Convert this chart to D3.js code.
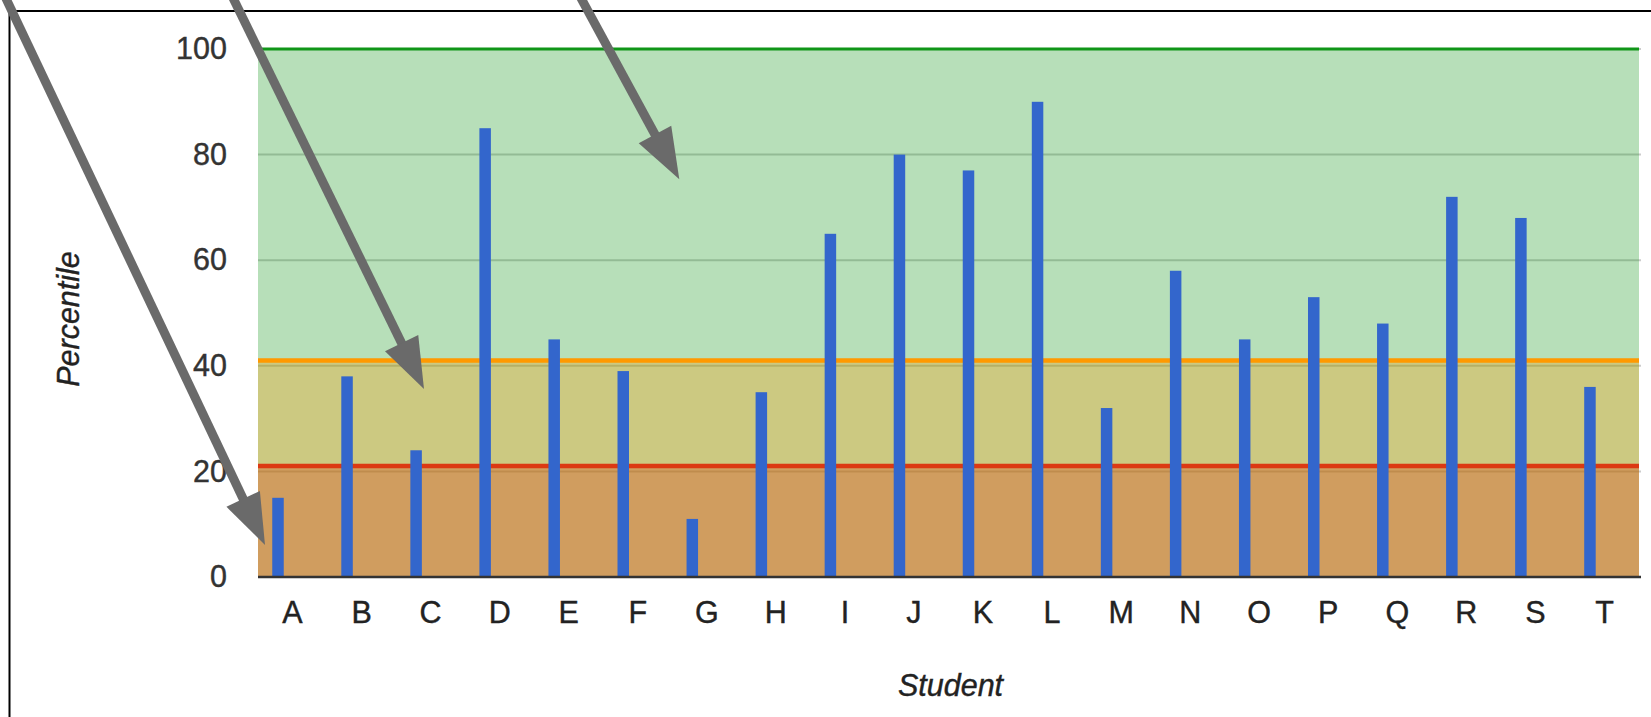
<!DOCTYPE html>
<html>
<head>
<meta charset="utf-8">
<script src="https://cdn.jsdelivr.net/npm/d3@7"></script>
<style>
  html, body { margin: 0; padding: 0; background: #ffffff; }
  svg { display: block; }
  text { font-family: "Liberation Sans", Arial, Helvetica, sans-serif; }
</style>
</head>
<body>
<svg id="chart" width="1651" height="717"></svg>
<script>
// Student percentiles
const categories = ["A","B","C","D","E","F","G","H","I","J","K","L","M","N","O","P","Q","R","S","T"];
const percentiles = [15, 38, 24, 85, 45, 39, 11, 35, 65, 80, 77, 90, 32, 58, 45, 53, 48, 72, 68, 36];

// Performance bands: each area runs from 0 up to its level
const bandLevels = [100, 41, 21];
const bandColors = ["#109618", "#ff9900", "#dc3912"];

const yTicks = [0, 20, 40, 60, 80, 100];
const xTitle = "Student";
const yTitle = "Percentile";

const W = 1651, H = 717;
const plot = { left: 258, right: 1639, top: 49, bottom: 577 };

const svg = d3.select("#chart");

const y = d3.scaleLinear().domain([0, 100]).range([plot.bottom, plot.top]);
// one band per student across the plot; labels sit at band centres
const x = d3.scaleBand().domain(categories).range([plot.left, plot.right]);
// bars sit a little left of the band centre
const barCentre = 20, barWidth = 11.5;

// outer frame (top and left edges)
svg.append("line").attr("x1", 9).attr("x2", W).attr("y1", 11).attr("y2", 11)
  .attr("stroke", "#000").attr("stroke-width", 2);
svg.append("line").attr("x1", 9.5).attr("x2", 9.5).attr("y1", 11).attr("y2", H)
  .attr("stroke", "#000").attr("stroke-width", 2);

// gridlines
svg.append("g").selectAll("line").data(yTicks).join("line")
  .attr("x1", plot.left).attr("x2", plot.right + 2)
  .attr("y1", d => y(d)).attr("y2", d => y(d))
  .attr("stroke", "#cccccc").attr("stroke-width", 2);

// translucent band areas
const area = d3.area().x(d => d[0]).y0(y(0)).y1(d => d[1]);
svg.append("g").selectAll("path").data(bandLevels).join("path")
  .attr("d", (lv) => area([[plot.left, y(lv)], [plot.right, y(lv)]]))
  .attr("fill", (lv, i) => bandColors[i]).attr("fill-opacity", 0.3);

// band boundary lines
svg.append("g").selectAll("line").data(bandLevels).join("line")
  .attr("x1", plot.left).attr("x2", plot.right)
  .attr("y1", d => y(d)).attr("y2", d => y(d))
  .attr("stroke", (d, i) => bandColors[i])
  .attr("stroke-width", (d, i) => i === 0 ? 3 : 4.5);

// bars
svg.append("g").selectAll("rect").data(percentiles).join("rect")
  .attr("x", (d, i) => x(categories[i]) + barCentre - barWidth / 2)
  .attr("width", barWidth)
  .attr("y", d => y(d))
  .attr("height", d => y(0) - y(d))
  .attr("fill", "#3366cc");

// baseline
svg.append("line").attr("x1", plot.left).attr("x2", plot.right + 2)
  .attr("y1", y(0)).attr("y2", y(0))
  .attr("stroke", "#333333").attr("stroke-width", 2.5);

const tickFont = 30.5;

// y axis labels
const yAxis = d3.axisLeft(y).tickValues(yTicks).tickSize(0).tickPadding(0);
const yg = svg.append("g").attr("transform", `translate(227,0)`).call(yAxis);
yg.select(".domain").remove();
yg.selectAll("text").attr("font-size", tickFont).attr("fill", "#333")
  .attr("stroke", "#333").attr("stroke-width", 0.4)
  .attr("font-family", "'Liberation Sans', Arial, sans-serif");

// x axis labels
const xAxis = d3.axisBottom(x).tickSize(0).tickPadding(0);
const xg = svg.append("g").attr("transform", `translate(0,601)`).call(xAxis);
xg.select(".domain").remove();
xg.selectAll("text").attr("font-size", tickFont).attr("fill", "#222")
  .attr("stroke", "#222").attr("stroke-width", 0.4)
  .attr("font-family", "'Liberation Sans', Arial, sans-serif");

// axis titles
svg.append("text").text(xTitle)
  .attr("x", (plot.left + plot.right) / 2 + 2).attr("y", 696)
  .attr("text-anchor", "middle").attr("font-size", tickFont)
  .attr("font-style", "italic").attr("fill", "#222")
  .attr("stroke", "#222").attr("stroke-width", 0.4);
svg.append("text").text(yTitle)
  .attr("transform", `translate(79,${(plot.top + plot.bottom) / 2 + 6}) rotate(-90)`)
  .attr("text-anchor", "middle").attr("font-size", tickFont)
  .attr("font-style", "italic").attr("fill", "#222")
  .attr("stroke", "#222").attr("stroke-width", 0.4);

// callout arrows
const arrows = [
  { from: [6.7, 0], to: [265, 545] },
  { from: [234, 0], to: [424, 389] },
  { from: [582, 0], to: [679.3, 179.3] }
];
const headLen = 51, headHalf = 18.5, arrowColor = "#6a6a6a";
const ag = svg.append("g");
arrows.forEach(a => {
  const dx = a.to[0] - a.from[0], dy = a.to[1] - a.from[1];
  const len = Math.hypot(dx, dy);
  const ux = dx / len, uy = dy / len;
  const sx = a.from[0] - ux * 30, sy = a.from[1] - uy * 30;
  const bx = a.to[0] - ux * headLen, by = a.to[1] - uy * headLen;
  ag.append("line")
    .attr("x1", sx).attr("y1", sy)
    .attr("x2", bx + ux * 4).attr("y2", by + uy * 4)
    .attr("stroke", arrowColor).attr("stroke-width", 9);
  ag.append("path")
    .attr("d", d3.line()([
      [a.to[0], a.to[1]],
      [bx - uy * headHalf, by + ux * headHalf],
      [bx + uy * headHalf, by - ux * headHalf]
    ]) + "Z")
    .attr("fill", arrowColor);
});
</script>
</body>
</html>
